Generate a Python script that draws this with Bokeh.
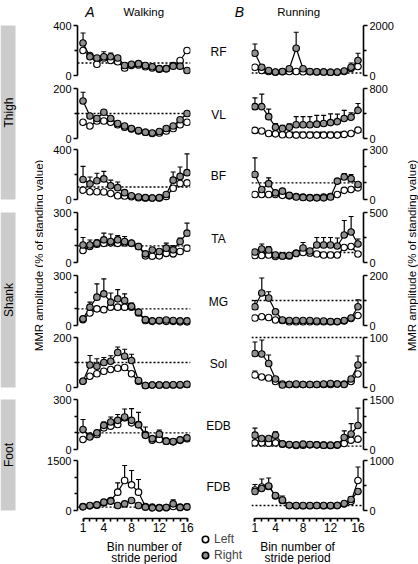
import math
from bokeh.plotting import figure
from bokeh.layouts import row, column
from bokeh.models import (ColumnDataSource, Range1d, LinearAxis, FixedTicker, Span,
                          Whisker, TeeHead, Legend, LegendItem)
from bokeh.embed import file_html
from bokeh.resources import INLINE
from bokeh.core.properties import value

# ---------------- data ----------------
BINS = [1, 2, 3, 4, 5, 6, 7, 8, 9, 10, 11, 12, 13, 14, 15, 16]
X_MAJOR = [1, 4, 8, 12, 16]
MUSCLES = ["RF", "VL", "BF", "TA", "MG", "Sol", "EDB", "FDB"]
GROUPS = ["Thigh", "Shank", "Foot"]
STANDING = 100

WALK_MAX = [400, 200, 400, 300, 300, 200, 300, 1500]
WALK_MINOR = [[200], [100], [200], [100, 200], [100, 200], [100], [100, 200], [500, 1000]]
RUN_MAX = [2000, 800, 300, 500, 200, 100, 1500, 1000]
RUN_MINOR = [[1000], [400], [100, 200], [250], [100], [50], [500, 1000], [500]]

# Walking (Left = open, Right = grey); *_E = upward error
W_RF_L = [200, 160, 90, 140, 120, 110, 60, 80, 85, 70, 60, 50, 55, 80, 120, 200]
W_RF_R = [260, 150, 140, 150, 150, 140, 80, 90, 95, 80, 70, 55, 55, 75, 75, 40]
W_RF_RE = [80, 0, 0, 40, 30, 20, 0, 15, 0, 10, 0, 20, 0, 20, 0, 0]
W_VL_L = [65, 50, 70, 70, 65, 55, 45, 38, 30, 25, 20, 22, 30, 40, 55, 65]
W_VL_R = [150, 90, 80, 105, 80, 60, 50, 40, 32, 25, 22, 28, 40, 50, 75, 100]
W_VL_RE = [35, 0, 10, 5, 5, 0, 0, 0, 0, 0, 0, 0, 0, 0, 5, 8]
W_BF_L = [75, 62, 62, 60, 48, 30, 28, 22, 15, 12, 12, 12, 25, 90, 128, 133]
W_BF_R = [160, 125, 150, 165, 110, 95, 55, 30, 20, 15, 12, 15, 40, 155, 185, 215]
W_BF_RE = [105, 55, 60, 60, 45, 45, 10, 5, 0, 0, 0, 0, 10, 65, 75, 150]
W_TA_L = [72, 96, 110, 115, 118, 115, 118, 115, 96, 40, 38, 40, 55, 52, 66, 86]
W_TA_R = [105, 105, 116, 136, 126, 136, 126, 116, 96, 52, 75, 66, 86, 76, 126, 176]
W_TA_RE = [45, 30, 20, 40, 45, 25, 30, 10, 0, 0, 15, 10, 30, 25, 20, 60]
W_MG_L = [35, 75, 100, 95, 110, 110, 110, 110, 75, 30, 25, 28, 25, 25, 22, 22]
W_MG_R = [40, 110, 170, 190, 140, 160, 150, 115, 80, 35, 28, 30, 33, 30, 28, 28]
W_MG_RE = [10, 30, 80, 90, 55, 55, 40, 20, 10, 5, 0, 0, 0, 0, 0, 0]
W_SOL_L = [25, 45, 55, 65, 72, 77, 80, 55, 25, 8, 10, 10, 10, 10, 10, 12]
W_SOL_R = [25, 90, 85, 100, 105, 140, 125, 108, 28, 8, 10, 10, 10, 11, 11, 13]
W_SOL_RE = [0, 38, 30, 20, 22, 22, 28, 25, 0, 0, 0, 0, 0, 0, 0, 0]
W_EDB_L = [60, 80, 90, 130, 140, 150, 190, 160, 150, 90, 56, 60, 50, 46, 55, 65]
W_EDB_R = [120, 75, 100, 145, 165, 175, 195, 175, 148, 85, 65, 92, 50, 48, 58, 70]
W_EDB_RE = [60, 0, 0, 20, 30, 35, 48, 70, 75, 50, 0, 25, 0, 0, 0, 5]
W_FDB_L = [120, 140, 160, 230, 300, 550, 900, 770, 550, 120, 100, 90, 90, 120, 100, 110]
W_FDB_LE = [0, 0, 0, 40, 60, 280, 450, 430, 380, 0, 0, 0, 0, 0, 0, 0]
W_FDB_R = [110, 150, 170, 250, 280, 150, 200, 300, 150, 100, 80, 80, 90, 200, 90, 110]
W_FDB_RE = [0, 0, 0, 0, 0, 0, 0, 40, 0, 0, 0, 0, 0, 120, 0, 0]

# Running
R_RF_L = [330, 200, 160, 130, 150, 160, 160, 150, 150, 140, 140, 130, 130, 160, 280, 360]
R_RF_R = [890, 330, 200, 140, 160, 270, 1090, 270, 160, 150, 140, 130, 140, 180, 330, 600]
R_RF_RE = [370, 100, 0, 0, 0, 60, 640, 80, 0, 0, 0, 0, 0, 30, 170, 290]
R_VL_L = [130, 120, 80, 75, 60, 60, 55, 55, 55, 55, 55, 55, 55, 65, 80, 135]
R_VL_R = [510, 510, 350, 180, 160, 180, 220, 220, 220, 230, 240, 255, 270, 320, 340, 450]
R_VL_RE = [140, 200, 120, 60, 50, 55, 130, 130, 130, 140, 130, 140, 120, 130, 70, 110]
R_BF_L = [30, 30, 30, 30, 25, 22, 18, 15, 12, 12, 15, 18, 30, 55, 60, 70]
R_BF_R = [150, 60, 95, 40, 50, 25, 15, 12, 10, 10, 10, 15, 110, 135, 125, 90]
R_BF_RE = [100, 10, 35, 10, 15, 5, 0, 0, 0, 0, 0, 0, 15, 20, 25, 10]
R_TA_L = [70, 70, 75, 60, 65, 65, 95, 100, 95, 85, 75, 75, 75, 150, 160, 85]
R_TA_R = [105, 135, 125, 75, 65, 70, 90, 145, 115, 175, 175, 175, 165, 275, 305, 185]
R_TA_RE = [20, 50, 35, 10, 10, 10, 15, 55, 25, 75, 75, 75, 80, 145, 155, 50]
R_MG_L = [30, 35, 32, 22, 20, 15, 15, 15, 15, 15, 15, 15, 15, 18, 28, 40]
R_MG_R = [75, 130, 110, 55, 22, 20, 20, 20, 20, 18, 18, 16, 16, 20, 30, 75]
R_MG_RE = [25, 60, 25, 10, 3, 5, 5, 5, 5, 3, 3, 3, 3, 5, 5, 28]
R_SOL_L = [25, 21, 19, 12, 7, 6, 6, 6, 6, 6, 6, 6, 7, 7, 12, 27]
R_SOL_LE = [8, 3, 4, 2, 0, 0, 0, 0, 0, 0, 0, 0, 0, 0, 0, 0]
R_SOL_R = [68, 67, 48, 17, 5, 6, 7, 6, 6, 6, 7, 8, 7, 6, 17, 45]
R_SOL_RE = [23, 28, 17, 3, 0, 0, 0, 0, 0, 0, 0, 0, 0, 0, 3, 18]
R_EDB_L = [200, 200, 190, 200, 160, 140, 120, 130, 140, 140, 130, 120, 130, 180, 280, 310]
R_EDB_R = [430, 330, 330, 430, 170, 150, 140, 160, 150, 140, 130, 130, 140, 360, 465, 720]
R_EDB_RE = [210, 60, 60, 100, 20, 10, 10, 10, 30, 10, 10, 10, 10, 200, 310, 520]
R_FDB_L = [410, 470, 480, 290, 200, 100, 95, 95, 95, 100, 95, 95, 100, 130, 180, 600]
R_FDB_LE = [0, 0, 0, 0, 0, 0, 0, 0, 0, 0, 0, 0, 0, 0, 0, 270]
R_FDB_R = [380, 440, 490, 300, 210, 100, 100, 100, 100, 100, 100, 100, 100, 140, 220, 380]
R_FDB_RE = [140, 190, 160, 40, 80, 0, 0, 0, 0, 0, 0, 0, 0, 0, 60, 60]

WALK = [(W_RF_L, None, W_RF_R, W_RF_RE), (W_VL_L, None, W_VL_R, W_VL_RE),
        (W_BF_L, None, W_BF_R, W_BF_RE), (W_TA_L, None, W_TA_R, W_TA_RE),
        (W_MG_L, None, W_MG_R, W_MG_RE), (W_SOL_L, None, W_SOL_R, W_SOL_RE),
        (W_EDB_L, None, W_EDB_R, W_EDB_RE), (W_FDB_L, W_FDB_LE, W_FDB_R, W_FDB_RE)]
RUN = [(R_RF_L, None, R_RF_R, R_RF_RE), (R_VL_L, None, R_VL_R, R_VL_RE),
       (R_BF_L, None, R_BF_R, R_BF_RE), (R_TA_L, None, R_TA_R, R_TA_RE),
       (R_MG_L, None, R_MG_R, R_MG_RE), (R_SOL_L, R_SOL_LE, R_SOL_R, R_SOL_RE),
       (R_EDB_L, None, R_EDB_R, R_EDB_RE), (R_FDB_L, R_FDB_LE, R_FDB_R, R_FDB_RE)]

# ---------------- style / geometry ----------------
FONT = "Liberation Sans"
GRAY = "#909090"
BOX = "#cccccc"
TOTAL_H = 564
HEAD_H = 19
SPAN = 50
TOPS = [25, 88, 149, 212, 275, 337, 399, 460]   # page-y of each panel's max tick
FOOT_Y = 537


def base_fig(w, h, xr, yr, **kw):
    p = figure(width=w, height=h, x_range=xr, y_range=yr, output_backend="svg",
               toolbar_location=None, x_axis_location=None, y_axis_location=None,
               title=None, outline_line_color=None, **kw)
    p.xgrid.visible = False
    p.ygrid.visible = False
    return p


def style_axis(ax, fs="11px"):
    ax.axis_line_width = 1.6
    ax.major_tick_line_width = 1.6
    ax.minor_tick_line_width = 1.6
    ax.major_tick_in = 0
    ax.minor_tick_in = 0
    ax.major_label_text_font = FONT
    ax.major_label_text_font_size = fs
    ax.major_label_text_color = "black"


def make_panel(i, col, maxv, minor, series):
    L, LE, R, RE = series
    last = i == len(TOPS) - 1
    top = TOPS[i]
    ppu = maxv / SPAN
    if last:
        bb, mbb = 8, FOOT_Y - (top + SPAN + 8)
    else:
        bb, mbb = TOPS[i + 1] - 6 - (top + SPAN), 0
    frame_h = 3 + SPAN + bb
    yr = Range1d(-bb * ppu, maxv + 3 * ppu)
    if col == 0:
        w, mbl, mbr, xr = 155, 34, 8, Range1d(0.2, 16.5)
    else:
        w, mbl, mbr, xr = 152, 7, 32, Range1d(0.5, 16.8)
    p = base_fig(w, 3 + frame_h + mbb, xr, yr, min_border_left=mbl, min_border_right=mbr,
                 min_border_top=3, min_border_bottom=mbb)

    ax = LinearAxis(ticker=FixedTicker(ticks=[0, maxv], minor_ticks=minor), bounds=(0, maxv))
    style_axis(ax)
    ax.major_tick_out = 4
    ax.minor_tick_out = 3
    ax.major_label_standoff = 2
    p.add_layout(ax, "left" if col == 0 else "right")

    if last:
        xa = LinearAxis(ticker=FixedTicker(ticks=X_MAJOR, minor_ticks=BINS), bounds=(1, 16))
        style_axis(xa, "12px")
        xa.major_tick_out = 3
        xa.minor_tick_out = 3
        xa.major_label_standoff = 1
        p.add_layout(xa, "below")

    p.add_layout(Span(location=STANDING, dimension="width", line_color="black",
                      line_width=1.3, line_dash="2 2", level="underlay"))

    srcs = []
    for vals, errs, fill in ((L, LE, "white"), (R, RE, GRAY)):
        e = errs if errs is not None else [0 for _ in vals]
        src = ColumnDataSource(dict(x=BINS, y=vals, top=[a + b for a, b in zip(vals, e)]))
        srcs.append((src, fill, errs is not None))
        p.line("x", "y", source=src, line_color="black", line_width=1.2)
    for src, fill, has_err in srcs:
        if has_err:
            p.add_layout(Whisker(source=src, base="x", lower="y", upper="top", dimension="height",
                                 line_color="black", line_width=1.2, level="underlay",
                                 upper_head=TeeHead(size=5, line_width=1.2, line_color="black"),
                                 lower_head=None))
    for src, fill, _ in srcs:
        p.scatter("x", "y", source=src, marker="circle", size=6.5, fill_color=fill,
                  line_color="black", line_width=1.2)
    return p


def text_fig(w, x0, h, y0):
    return base_fig(w, h, Range1d(x0, x0 + w), Range1d(y0 + h, y0), min_border=0)


# ---------------- left strip ----------------
strip_l = text_fig(43, 0, TOTAL_H, 0)
g_top = [TOPS[0], TOPS[3], TOPS[6]]
g_bot = [TOPS[2] + SPAN, TOPS[5] + SPAN, TOPS[7] + SPAN]
strip_l.quad(left=[0] * 3, right=[15] * 3, top=g_top, bottom=g_bot, fill_color=BOX, line_color=None)
strip_l.text(x=[8.5] * 3, y=[(a + b) / 2 for a, b in zip(g_top, g_bot)], text=GROUPS,
             angle=math.pi / 2, text_align="center", text_baseline="middle",
             text_font=value(FONT), text_font_size="12px", text_color="black")
strip_l.text(x=[38], y=[255], text=["MMR amplitude (% of standing value)"], angle=math.pi / 2,
             text_align="center", text_baseline="middle", text_font=value(FONT),
             text_font_size="11.5px", text_color="black")

# ---------------- columns ----------------
head_l = text_fig(155, 43, HEAD_H, 0)
head_l.text(x=[60], y=[11.5], text=["A"], text_align="center", text_baseline="alphabetic",
            text_font=value(FONT), text_font_size="14px", text_font_style="italic")
head_l.text(x=[134], y=[11], text=["Walking"], text_align="center", text_baseline="alphabetic",
            text_font=value(FONT), text_font_size="11.5px")
foot_l = text_fig(155, 43, TOTAL_H - FOOT_Y, FOOT_Y)
foot_l.text(x=[134.5, 134.5], y=[546, 557.5], text=["Bin number of", "stride period"],
            text_align="center", text_baseline="alphabetic", text_font=value(FONT),
            text_font_size="12px")
col_l = column([head_l] + [make_panel(i, 0, WALK_MAX[i], WALK_MINOR[i], WALK[i])
                           for i in range(8)] + [foot_l], spacing=0)

head_r = text_fig(152, 244, HEAD_H, 0)
head_r.text(x=[308], y=[11], text=["Running"], text_align="center", text_baseline="alphabetic",
            text_font=value(FONT), text_font_size="11.5px")
foot_r = text_fig(152, 244, TOTAL_H - FOOT_Y, FOOT_Y)
foot_r.text(x=[306.5, 306.5], y=[546, 557.5], text=["Bin number of", "stride period"],
            text_align="center", text_baseline="alphabetic", text_font=value(FONT),
            text_font_size="12px")
col_r = column([head_r] + [make_panel(i, 1, RUN_MAX[i], RUN_MINOR[i], RUN[i])
                           for i in range(8)] + [foot_r], spacing=0)

# ---------------- middle strip ----------------
strip_m = text_fig(46, 198, TOTAL_H, 0)
strip_m.text(x=[239], y=[11.5], text=["B"], text_align="center", text_baseline="alphabetic",
             text_font=value(FONT), text_font_size="14px", text_font_style="italic")
strip_m.text(x=[218] * 8, y=[t + 26 for t in TOPS], text=MUSCLES,
             text_align="center", text_baseline="middle", text_font=value(FONT),
             text_font_size="12px")
nan = float("nan")
r_left = strip_m.scatter(x=[nan], y=[nan], marker="circle", size=7, fill_color="white",
                         line_color="black", line_width=1.6)
r_right = strip_m.scatter(x=[nan], y=[nan], marker="circle", size=7, fill_color=GRAY,
                          line_color="black", line_width=1.6)
leg = Legend(items=[LegendItem(label="Left", renderers=[r_left]),
                    LegendItem(label="Right", renderers=[r_right])],
             location=(-1, 1), orientation="vertical", spacing=-3, padding=0, margin=0,
             glyph_width=16, glyph_height=16, label_standoff=1, label_height=12,
             label_text_font=FONT, label_text_font_size="12px", border_line_color=None,
             background_fill_alpha=0)
strip_m.add_layout(leg)

# ---------------- right strip ----------------
strip_r = text_fig(22, 396, TOTAL_H, 0)
strip_r.text(x=[411], y=[255], text=["MMR amplitude (% of standing value)"], angle=math.pi / 2,
             text_align="center", text_baseline="middle", text_font=value(FONT),
             text_font_size="11.5px", text_color="black")

layout = row([strip_l, col_l, strip_m, col_r, strip_r], spacing=0)

open("out.html", "w").write(file_html(layout, INLINE))
